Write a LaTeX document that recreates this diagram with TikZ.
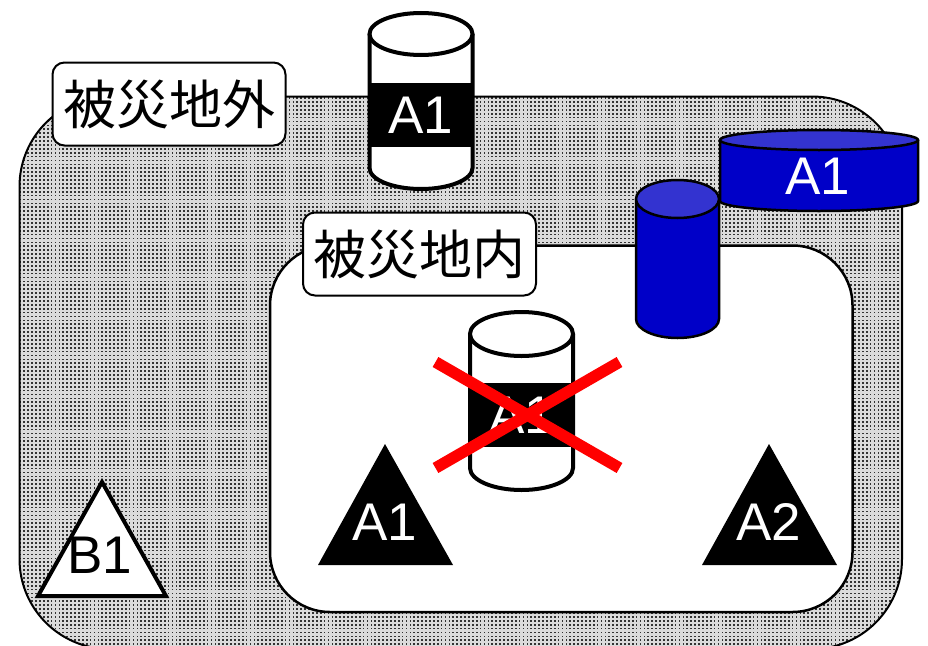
\documentclass[tikz,border=0pt]{standalone}
\usepackage{fontspec}
\setmainfont{Liberation Sans}
\newfontfamily\jpfont{Noto Sans CJK JP}
\usetikzlibrary{patterns}

\pgfdeclarepatternformonly{areadots}{\pgfqpoint{-1pt}{-1pt}}{\pgfqpoint{3pt}{3pt}}{\pgfqpoint{3.9pt}{3.9pt}}
{
	\pgfpathrectangle{\pgfqpoint{0pt}{0pt}}{\pgfqpoint{1.7pt}{1.7pt}}
	\pgfusepath{fill}
}

\definecolor{bodyblue}{RGB}{0,0,200}
\definecolor{topblue}{RGB}{51,51,208}

\tikzset{
	area/.style={draw=black,rounded corners=#1},
	areatag/.style={draw=black,line width=2pt,fill=white,rounded corners=12pt,minimum width=233pt,minimum height=83pt,inner sep=0pt,font=\jpfont\fontsize{53}{53}\selectfont},
	sitetag/.style={inner sep=0pt,font=\fontsize{53}{53}\selectfont},
	band/.style={sitetag,fill=black,text=white,minimum width=106pt,minimum height=64pt}
}

\begin{document}
\begin{tikzpicture}[x=1pt,y=-1pt]

	\clip (0,0) rectangle (928,645);

	% the two areas
	\fill [gray!28,rounded corners=90pt] (19.5,96.5) rectangle (902,649);
	\draw [area=90pt,line width=2pt,pattern=areadots,pattern color=black!80] (19.5,96.5) rectangle (902,649);
	\draw [area=60pt,line width=2.5pt,fill=white] (270,245.5) rectangle (852.5,612);

	\node [areatag] (outside) at (169,104) {被災地外};
	\node [areatag] (inside) at (419.5,254) {被災地内};

	% cylinders: centre x, radius, top y, side end y, radius of the ends, width, colours
	\foreach \cx/\cr/\ctop/\cend/\cry/\cw/\cbody/\clid in {
		421/51.5/34/168/21/4/white/white,
		521.5/51.5/334/468/22/4/white/white,
		677.5/41.5/199/319/19/2.5/bodyblue/topblue,
		819/99/140/201/10/2.5/bodyblue/topblue}
	{
		\draw [line width=\cw pt,fill=\cbody] (\cx-\cr,\ctop) -- (\cx-\cr,\cend)
			arc [start angle=180,end angle=360,x radius=\cr pt,y radius=\cry pt] -- (\cx+\cr,\ctop);
		\draw [line width=\cw pt,fill=\clid] (\cx,\ctop) circle [x radius=\cr pt,y radius=\cry pt];
	}

	\node [band] (topband) at (421,115) {A1};
	\node [band] (lostband) at (521.5,415) {A1};
	\node [sitetag,text=white] (flat) at (818,176) {A1};

	\draw [red,line width=11.5pt] (435.5,362) -- (619.5,468);
	\draw [red,line width=11.5pt] (435.5,468) -- (619.5,362);

	% triangles
	\fill (385,444) -- (453,565) -- (318,565) -- cycle;
	\fill (769,444) -- (837,565) -- (702,565) -- cycle;
	\draw [line width=4pt,fill=white,miter limit=10] (102,482) -- (166,596) -- (38,596) -- cycle;

	\node [sitetag,text=white] (siteA) at (384.5,522) {A1};
	\node [sitetag,text=white] (siteB) at (769,522) {A2};
	\node [sitetag] (siteC) at (100,555) {B1};

\end{tikzpicture}
\end{document}
